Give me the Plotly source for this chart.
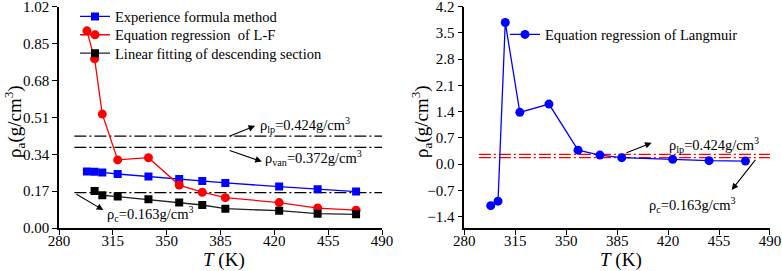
import plotly.graph_objects as go

# ---------------- data ----------------
T_all = [298.15, 303.15, 308.15, 318.15, 338.15, 358.15, 373.15, 388.15, 423.15, 448.15, 473.15]
T_lin = [303.15, 308.15, 318.15, 338.15, 358.15, 373.15, 388.15, 423.15, 448.15, 473.15]

rho_experience = [0.260, 0.259, 0.256, 0.249, 0.237, 0.226, 0.217, 0.208, 0.191, 0.179, 0.168]
rho_LF = [0.909, 0.780, 0.525, 0.314, 0.324, 0.198, 0.165, 0.140, 0.117, 0.092, 0.082]
rho_linear = [0.171, 0.151, 0.145, 0.132, 0.118, 0.106, 0.089, 0.080, 0.066, 0.063]
rho_langmuir = [-1.11, -0.99, 3.78, 1.38, 1.60, 0.37, 0.24, 0.17, 0.125, 0.09, 0.08]

ref_T = [290, 490]
ref_left = [0.424, 0.372, 0.163]
ref_right = [0.26, 0.17]

x_ticks = [280, 315, 350, 385, 420, 455, 490]
y_ticks_left = [0.00, 0.17, 0.34, 0.51, 0.68, 0.85, 1.02]
y_ticks_right = [-1.4, -0.7, 0.0, 0.7, 1.4, 2.1, 2.8, 3.5, 4.2]

FONT = "Liberation Serif"
W, H = 782, 271

def px_x(p):
    return p / W

def px_y(p):
    return (H - p) / H

fig = go.Figure()

dash = "12px,3px,2px,3px"

# left panel reference lines
for v in ref_left:
    fig.add_trace(go.Scatter(x=ref_T, y=[v, v], mode="lines", xaxis="x", yaxis="y",
                             line=dict(color="black", width=1.2, dash=dash),
                             showlegend=False, hoverinfo="skip"))

fig.add_trace(go.Scatter(x=T_all, y=rho_experience, mode="lines+markers", name="Experience formula method",
                         xaxis="x", yaxis="y", line=dict(color="#0000ff", width=1.3),
                         marker=dict(symbol="square", size=8, color="#0000ff"), legend="legend"))
fig.add_trace(go.Scatter(x=T_all, y=rho_LF, mode="lines+markers", name="Equation regression  of L-F",
                         xaxis="x", yaxis="y", line=dict(color="#ff0000", width=1.3),
                         marker=dict(symbol="circle", size=9, color="#ff0000"), legend="legend3"))
fig.add_trace(go.Scatter(x=T_lin, y=rho_linear, mode="lines+markers", name="Linear fitting of descending section",
                         xaxis="x", yaxis="y", line=dict(color="#222222", width=1.3),
                         marker=dict(symbol="square", size=8, color="black"), legend="legend4"))

# right panel
for v in ref_right:
    fig.add_trace(go.Scatter(x=ref_T, y=[v, v], mode="lines", xaxis="x2", yaxis="y2",
                             line=dict(color="#ff0000", width=1.2, dash=dash),
                             showlegend=False, hoverinfo="skip"))
fig.add_trace(go.Scatter(x=T_all, y=rho_langmuir, mode="lines+markers", name="Equation regression of Langmuir",
                         xaxis="x2", yaxis="y2", line=dict(color="#0000ff", width=1.3),
                         marker=dict(symbol="circle", size=9, color="#0000ff"), legend="legend2"))

axis_common = dict(showline=True, linecolor="black", linewidth=1.5, ticks="outside", ticklen=5,
                   tickwidth=1.3, tickcolor="black", showgrid=False, zeroline=False, mirror=False,
                   ticklabeloverflow="allow", automargin=False,
                   tickfont=dict(family=FONT, size=15, color="black"))

leg_font = dict(family=FONT, size=14.5, color="black")

def leg(xp, yp):
    return dict(x=px_x(xp), y=px_y(yp), xanchor="left", yanchor="top", bgcolor="rgba(0,0,0,0)",
                font=leg_font, itemwidth=30)

fig.update_layout(
    width=W, height=H,
    margin=dict(l=0, r=0, t=0, b=0, autoexpand=False),
    paper_bgcolor="white", plot_bgcolor="white",
    xaxis=dict(domain=[px_x(59), px_x(382)], range=[280, 490], tickvals=x_ticks, anchor="y",
               ticklabelstandoff=-7, **axis_common),
    yaxis=dict(domain=[px_y(228), px_y(6.7)], range=[0, 1.0202], tickvals=y_ticks_left,
               tickformat=".2f", anchor="x", **axis_common),
    xaxis2=dict(domain=[px_x(464.3), px_x(770)], range=[280, 490.01], tickvals=x_ticks, anchor="y2",
                ticklabelstandoff=-7, **axis_common),
    yaxis2=dict(domain=[px_y(228), px_y(6.7)], range=[-1.707, 4.2005], tickvals=y_ticks_right,
                tickformat=".1f", anchor="x2", **axis_common),
    legend=leg(75, 0.5),
    legend3=leg(75, 18.8),
    legend4=leg(75, 37.2),
    legend2=leg(505, 18.5),
)

ann_font = dict(family=FONT, size=14.5, color="black")
annotations = []

# arrows (head at x,y; tail at ax,ay)
for (hx, hy, tx, ty, xr, yr) in [
    (407.5, 0.471, 390.2, 0.421, "x", "y"),
    (411.9, 0.306, 390.0, 0.360, "x", "y"),
    (308.8, 0.083, 290.4, 0.160, "x", "y"),
    (408.7, 0.568, 390.4, 0.285, "x2", "y2"),
    (463.7, -0.693, 480.8, 0.152, "x2", "y2"),
]:
    annotations.append(dict(x=hx, y=hy, ax=tx, ay=ty, xref=xr, yref=yr, axref=xr, ayref=yr,
                            text="", showarrow=True, arrowhead=2, arrowsize=1.2, arrowwidth=1.1,
                            arrowcolor="black"))

# label texts
for (x, y, txt, xr, yr) in [
    (409.5, 0.475, "ρ<sub>lp</sub>=0.424g/cm<sup>3</sup>", "x", "y"),
    (412.7, 0.323, "ρ<sub>van</sub>=0.372g/cm<sup>3</sup>", "x", "y"),
    (309.9, 0.066, "ρ<sub>c</sub>=0.163g/cm<sup>3</sup>", "x", "y"),
    (419.0, 0.507, "ρ<sub>lp</sub>=0.424g/cm<sup>3</sup>", "x2", "y2"),
    (405.3, -1.09, "ρ<sub>c</sub>=0.163g/cm<sup>3</sup>", "x2", "y2"),
]:
    annotations.append(dict(x=x, y=y, xref=xr, yref=yr, text=txt, showarrow=False,
                            xanchor="left", yanchor="middle", font=ann_font))

# axis titles
title_font = dict(family=FONT, size=19, color="black")
for (x, txt) in [(224, "<i>T</i> (K)"), (621, "<i>T</i> (K)")]:
    annotations.append(dict(x=px_x(x), y=px_y(260), xref="paper", yref="paper", text=txt,
                            showarrow=False, xanchor="center", yanchor="middle", font=title_font))
for (x, y) in [(14, 122), (421, 122)]:
    annotations.append(dict(x=px_x(x), y=px_y(y), xref="paper", yref="paper",
                            text="ρ<sub>a</sub>(g/cm<sup>3</sup>)", textangle=-90,
                            showarrow=False, xanchor="center", yanchor="middle", font=title_font))

fig.update_layout(annotations=annotations)

fig.write_html("out.html", config={"displayModeBar": False},
               post_script="document.body.style.margin='0';document.body.style.overflow='hidden';")
